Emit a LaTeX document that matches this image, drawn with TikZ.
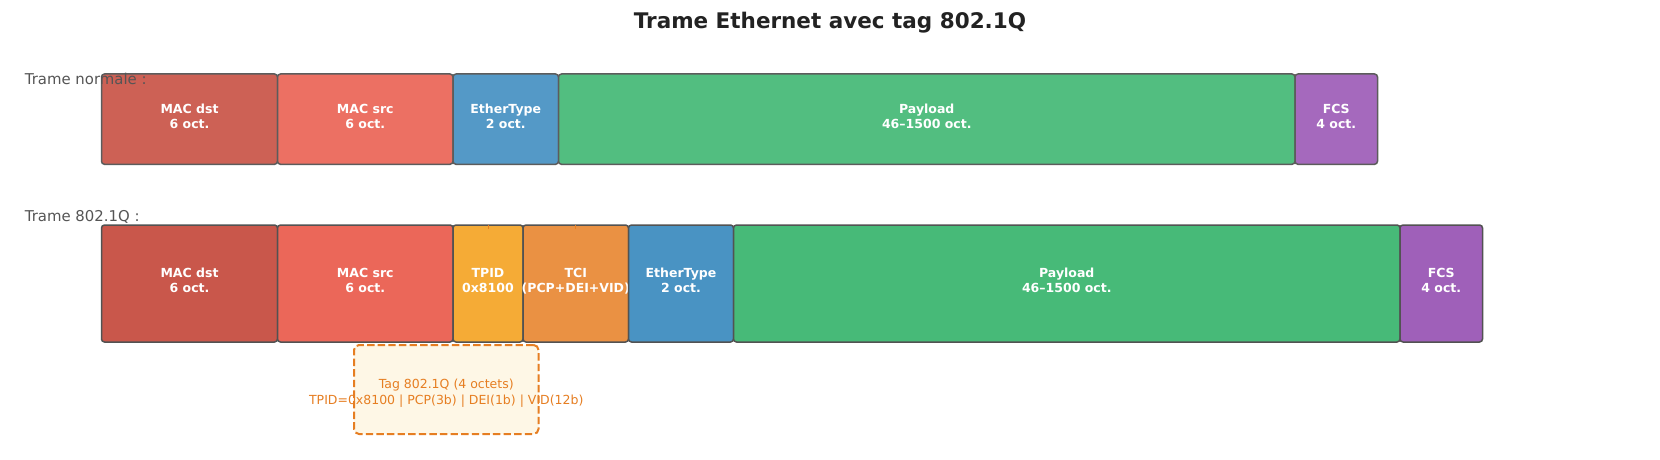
\documentclass[tikz,border=0pt]{standalone}
\usepackage{fontspec}
\setmainfont{DejaVu Sans}
\definecolor{cmd}{HTML}{C0392B}
\definecolor{cms}{HTML}{E74C3C}
\definecolor{cet}{HTML}{2980B9}
\definecolor{cpl}{HTML}{27AE60}
\definecolor{cfcs}{HTML}{8E44AD}
\definecolor{ctpid}{HTML}{F39C12}
\definecolor{ctci}{HTML}{E67E22}
\definecolor{edgeA}{HTML}{5C5C5C}
\definecolor{edgeB}{HTML}{525252}
\definecolor{titlecol}{HTML}{222222}
\definecolor{labcol}{HTML}{555555}
\definecolor{tagfill}{HTML}{FEF7E6}
\definecolor{tagcol}{HTML}{E67E22}
\newcommand\twolines[2]{\rule{0pt}{9.5pt}#1\\#2\rule[-6.6pt]{0pt}{0pt}}
\newcommand\zw[1]{\makebox[0pt]{#1}}
\begin{document}
\begin{tikzpicture}[x=1pt,y=-1pt,
  field/.style={rectangle, rounded corners=3pt, line width=1.5pt, inner sep=0pt, outer sep=0pt,
    text=white, align=center, font=\bfseries\fontsize{12.5}{15}\selectfont},
  rowA/.style={field, draw=edgeA, fill=#1!80!white, minimum height=90.3pt},
  rowB/.style={field, draw=edgeB, fill=#1!85!white, minimum height=117pt},
  tagbox/.style={rectangle, rounded corners=5pt, draw=tagcol, fill=tagfill, line width=2pt,
    dash pattern=on 7.4pt off 3.2pt, inner sep=0pt, outer sep=0pt},
  tagtext/.style={text=tagcol, align=center, inner sep=0pt, font=\fontsize{12.5}{16}\selectfont},
  lab/.style={text=labcol, inner sep=0pt, font=\fontsize{14.9}{17.5}\selectfont},
  titlestyle/.style={text=titlecol, font=\bfseries\fontsize{21.5}{26}\selectfont},
  tick/.style={draw=tagcol, line width=1pt}
]
\useasboundingbox[fill=white] (0,0) rectangle (1660,460);
% title
\node[titlestyle, anchor=base] (title) at (830,28.3) {Trame Ethernet avec tag 802.1Q};
% normal frame
\node[rowA=cmd, minimum width=176pt] (mdA) at (189.5,119.15) {\twolines{MAC dst}{6 oct.}};
\node[rowA=cms, minimum width=175.5pt] (msA) at (365.25,119.15) {\twolines{MAC src}{6 oct.}};
\node[rowA=cet, minimum width=105.5pt] (etA) at (505.75,119.15) {\twolines{EtherType}{2 oct.}};
\node[rowA=cpl, minimum width=736.5pt] (plA) at (926.75,119.15) {\twolines{Payload}{46–1500 oct.}};
\node[rowA=cfcs, minimum width=82.5pt] (fcsA) at (1336.25,119.15) {\twolines{FCS}{4 oct.}};
% 802.1Q frame
\node[rowB=cmd, minimum width=176pt] (mdB) at (189.5,283.5) {\twolines{MAC dst}{6 oct.}};
\node[rowB=cms, minimum width=175.5pt] (msB) at (365.25,283.5) {\twolines{MAC src}{6 oct.}};
\node[rowB=ctpid, minimum width=70pt] (tpid) at (488,283.5) {\twolines{TPID}{0x8100}};
\node[rowB=ctci, minimum width=105.5pt] (tci) at (575.75,283.5) {\twolines{TCI}{\zw{(PCP+DEI+VID)}}};
\node[rowB=cet, minimum width=105pt] (etB) at (681,283.5) {\twolines{EtherType}{2 oct.}};
\node[rowB=cpl, minimum width=666.5pt] (plB) at (1066.75,283.5) {\twolines{Payload}{46–1500 oct.}};
\node[rowB=cfcs, minimum width=82.5pt] (fcsB) at (1441.25,283.5) {\twolines{FCS}{4 oct.}};
% ticks
\draw[tick] (tpid.north) -- ++(0,3.5);
\draw[tick] (tci.north) -- ++(0,3.5);
% tag box
\node[tagbox, minimum width=184.5pt, minimum height=89pt] (tag) at (446.25,389.5) {};
\node[tagtext] (tagtxt) at (446.25,392.5) {\rule{0pt}{10pt}Tag 802.1Q (4 octets)\\TPID=0x8100 | PCP(3b) | DEI(1b) | VID(12b)\rule[-3pt]{0pt}{0pt}};
% labels
\node[lab, anchor=base west] (labA) at (24.7,84.3) {Trame normale :};
\node[lab, anchor=base west] (labB) at (24.7,221) {Trame 802.1Q :};
\end{tikzpicture}
\end{document}
